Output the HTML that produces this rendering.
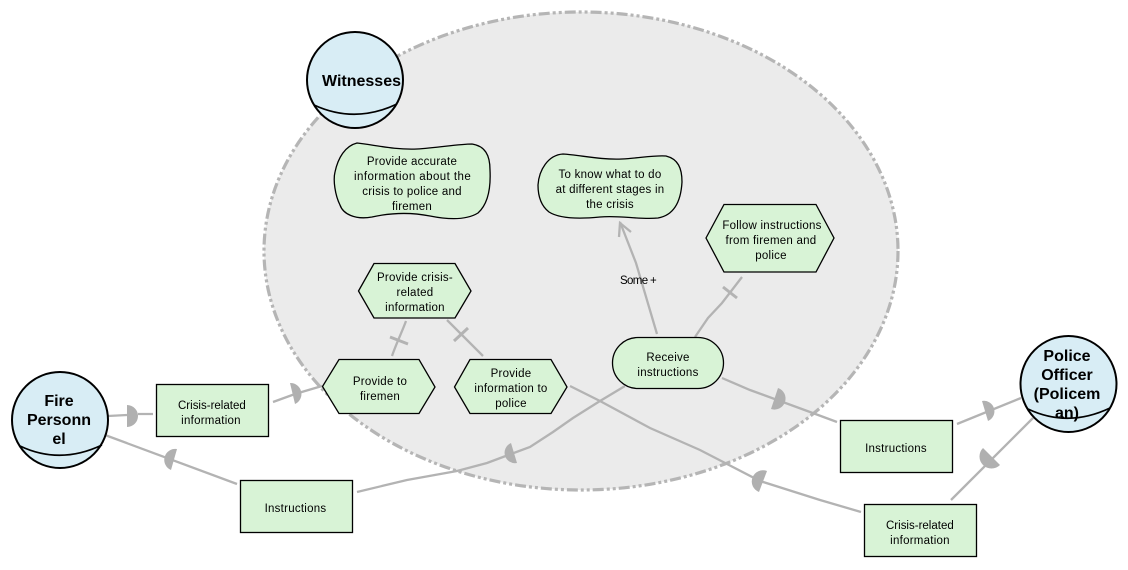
<!DOCTYPE html>
<html><head><meta charset="utf-8"><style>
html,body{margin:0;padding:0;background:#fff;width:1128px;height:570px;overflow:hidden}
svg{display:block}
.n{font-family:"Liberation Sans",sans-serif;font-size:11.5px;letter-spacing:.25px;text-anchor:middle;fill:#000}
.b{font-family:"Liberation Sans",sans-serif;font-size:16px;font-weight:bold;text-anchor:middle;fill:#000}
.l{fill:none;stroke:#b3b3b3;stroke-width:2.3}
.t{fill:none;stroke:#b3b3b3;stroke-width:3}
.m{fill:#b0b0b0}
.g{fill:#d8f3d6;stroke:#000;stroke-width:1.3}
.c{fill:#d8edf5;stroke:#000;stroke-width:2}
.a{fill:none;stroke:#000;stroke-width:1.7}
</style></head><body>
<svg width="1128" height="570" viewBox="0 0 1128 570" xmlns="http://www.w3.org/2000/svg">
<ellipse cx="581" cy="251" rx="317" ry="239" fill="#ebebeb" stroke="#b5b5b5" stroke-width="3.2" stroke-dasharray="11 3 3 3 3 3"/>

<!-- connectors -->
<path class="l" d="M108 416L127 415M138 414L153 414"/>
<path class="m" d="M127 405A11 11 0 0 1 127 427Z"/>
<path class="l" d="M273 402L295 394L322 386"/>
<path class="m" d="M290 383A11 11 0 0 1 295 404Z"/>
<path class="l" d="M237 484L105 435"/>
<path class="m" d="M177 449A11 11 0 0 0 171 470Z"/>
<path class="l" d="M357 492L407 480L457 471L487 463L503 457L530 447L553 432L573 418L600 401L625 386"/>
<path class="m" d="M511 443A10.500 10.500 0 0 0 517 463Z"/>
<path class="l" d="M570 386L600 401L650 428L700 450L760 481L820 500L861 512"/>
<path class="m" d="M767 471A11 11 0 0 0 759 492Z"/>
<path class="l" d="M722 378L750 390L810 412L837 422"/>
<path class="m" d="M778 388A11 11 0 0 1 771 409Z"/>
<path class="l" d="M957 424L1021 398"/>
<path class="m" d="M982 401A10.500 10.500 0 0 1 988 421Z"/>
<path class="l" d="M951 500L1033 418"/>
<path class="m" d="M983 448A12 12 0 0 0 1000 465Z"/>

<path class="l" d="M406 321C402 332 396 344 392 356"/>
<path class="t" d="M390 337L408 344"/>
<path class="l" d="M447 320L483 356"/>
<path class="t" d="M454 341L468 328"/>
<path class="l" d="M742 277L722 303L708 318L695 337"/>
<path class="t" d="M723 287L737 298"/>
<path class="l" d="M657 334L636 263L620 222"/>
<path class="l" d="M619 237L620 223L631 232"/>

<!-- rectangles -->
<rect class="g" x="156.5" y="384.5" width="112" height="52"/>
<rect class="g" x="240.5" y="480.5" width="112" height="52"/>
<rect class="g" x="840.5" y="420.5" width="112" height="52"/>
<rect class="g" x="864.5" y="504.5" width="112" height="52"/>

<!-- hexagons -->
<polygon class="g" points="322.5,386.5 339,359.5 419,359.5 435,387 419,413.5 339,413.5"/>
<polygon class="g" points="454.5,387 470,359.5 551,359.5 567,387 551,413.5 470,413.5"/>
<polygon class="g" points="358.5,291 374,263.5 455,263.5 471,291 455,318 374,318"/>
<polygon class="g" points="706,238 724,204.5 816,204.5 834,238 816,272 724,272"/>
<rect class="g" x="612.5" y="337.5" width="111" height="51" rx="25.5" ry="25.5"/>

<!-- clouds -->
<path class="g" d="M357 143C375 145 395 150 417 149C437 148 458 144 472 144C485 146 490 155 490 170C491 190 487 205 478 213C465 221 445 219 430 216C410 212 390 213 372 217C355 220 343 214 340 205C335 195 333 180 335 172C338 158 345 146 357 143Z"/>
<path class="g" d="M563 154C580 155 600 160 622 159C640 158 655 155 666 156C678 159 682 168 682 182C681 200 675 215 658 218C640 220 620 215 600 217C580 219 560 219 549 212C540 205 538 195 538 185C539 170 548 155 563 154Z"/>

<!-- actors -->
<circle class="c" cx="60" cy="420" r="48"/><path class="a" d="M20 446Q60 465 102 445"/>
<circle class="c" cx="355" cy="80" r="48"/><path class="a" d="M314 105Q355 124 397 104"/>
<circle class="c" cx="1068.500" cy="384" r="48"/><path class="a" d="M1028 409Q1068 428 1110 408"/>

<!-- text -->
<text class="b" x="361.500" y="86">Witnesses</text>
<text class="b" x="59" y="406">Fire</text>
<text class="b" x="59" y="425">Personn</text>
<text class="b" x="59" y="444">el</text>
<text class="b" x="1067" y="361">Police</text>
<text class="b" x="1067" y="380">Officer</text>
<text class="b" x="1067" y="399">(Policem</text>
<text class="b" x="1067" y="418">an)</text>

<text class="n" x="412" y="165">Provide accurate</text>
<text class="n" x="412.500" y="180" textLength="117">information about the</text>
<text class="n" x="412" y="195">crisis to police and</text>
<text class="n" x="412" y="210">firemen</text>
<text class="n" x="610" y="178">To know what to do</text>
<text class="n" x="610" y="193">at different stages in</text>
<text class="n" x="610" y="208">the crisis</text>
<text class="n" x="772" y="229">Follow instructions</text>
<text class="n" x="771" y="244">from firemen and</text>
<text class="n" x="771" y="259">police</text>
<text class="n" x="415" y="281">Provide crisis-</text>
<text class="n" x="415" y="296">related</text>
<text class="n" x="415" y="311">information</text>
<text class="n" x="380" y="385">Provide to</text>
<text class="n" x="380" y="400">firemen</text>
<text class="n" x="511" y="377">Provide</text>
<text class="n" x="511" y="392">information to</text>
<text class="n" x="511" y="407">police</text>
<text class="n" x="668" y="361">Receive</text>
<text class="n" x="668" y="376">instructions</text>
<text class="n" x="638.500" y="284" textLength="37">Some +</text>
<text class="n" x="212" y="409" textLength="68">Crisis-related</text>
<text class="n" x="211" y="424">information</text>
<text class="n" x="295.500" y="512">Instructions</text>
<text class="n" x="896" y="452">Instructions</text>
<text class="n" x="920" y="529" textLength="68">Crisis-related</text>
<text class="n" x="920" y="544">information</text>
</svg>
</body></html>
